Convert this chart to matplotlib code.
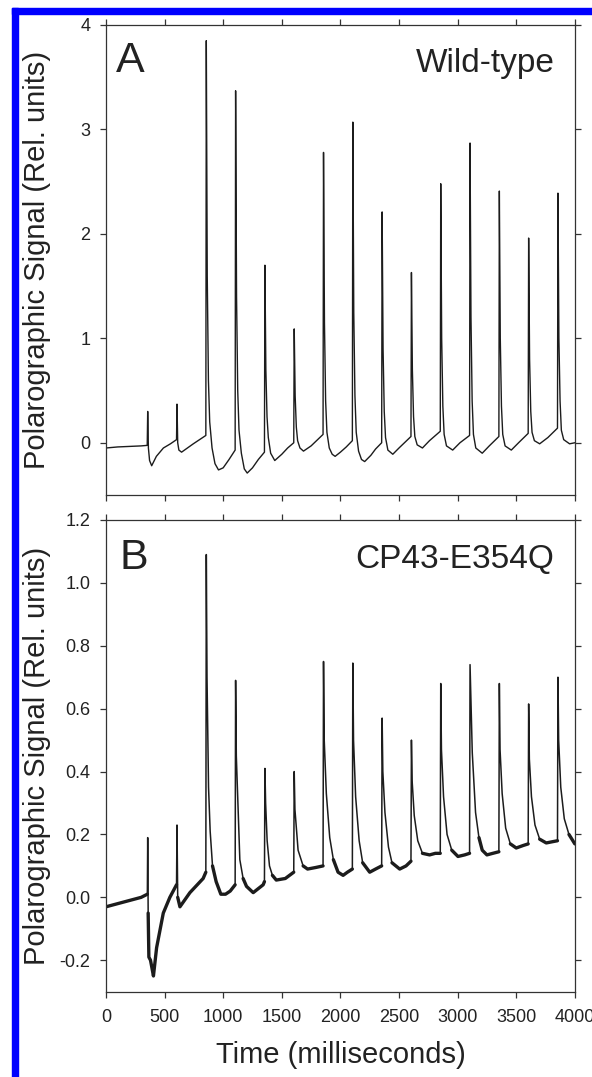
import matplotlib
matplotlib.use("Agg")
import matplotlib.pyplot as plt
import numpy as np
from matplotlib.patches import Rectangle

# ---------------------------------------------------------------------------
# Data (time in ms, signal in relative units)
# ---------------------------------------------------------------------------

flash_times = [355, 605, 855, 1105, 1355, 1605, 1855, 2105, 2355,
               2605, 2855, 3105, 3355, 3605, 3855]

# Panel A - wild-type
wt_time = [
    0, 100, 200, 300, 352,
    356, 362, 372, 390, 430, 490, 550, 602,
    606, 612, 622, 645, 745, 852,
    856, 864, 874, 885, 905, 930, 960, 1000, 1050, 1102,
    1106, 1114, 1124, 1135, 1155, 1180, 1205, 1250, 1300, 1352,
    1356, 1364, 1374, 1385, 1405, 1440, 1500, 1550, 1602,
    1606, 1614, 1624, 1635, 1655, 1685, 1750, 1852,
    1856, 1864, 1874, 1885, 1905, 1930, 1955, 2000, 2050, 2102,
    2106, 2114, 2124, 2135, 2155, 2180, 2207, 2260, 2300, 2352,
    2356, 2364, 2374, 2385, 2405, 2447, 2500, 2602,
    2606, 2614, 2624, 2635, 2655, 2700, 2760, 2852,
    2856, 2864, 2874, 2885, 2905, 2958, 3020, 3102,
    3106, 3114, 3124, 3135, 3155, 3210, 3270, 3352,
    3356, 3364, 3374, 3385, 3405, 3458, 3520, 3602,
    3606, 3614, 3624, 3635, 3655, 3700, 3770, 3852,
    3856, 3864, 3874, 3885, 3905, 3955, 4000,
]
wt_signal = [
    -0.05, -0.04, -0.035, -0.03, -0.025,
    0.30, -0.05, -0.17, -0.22, -0.13, -0.05, -0.01, 0.03,
    0.37, 0.0, -0.07, -0.09, -0.01, 0.07,
    3.85, 1.6, 0.6, 0.2, -0.05, -0.2, -0.26, -0.24, -0.16, -0.07,
    3.37, 1.4, 0.5, 0.12, -0.1, -0.25, -0.29, -0.24, -0.16, -0.09,
    1.70, 0.7, 0.25, 0.05, -0.1, -0.17, -0.11, -0.05, 0.0,
    1.09, 0.45, 0.15, 0.02, -0.05, -0.08, -0.03, 0.08,
    2.78, 1.15, 0.4, 0.1, -0.05, -0.11, -0.13, -0.09, -0.04, 0.02,
    3.07, 1.25, 0.45, 0.1, -0.08, -0.16, -0.18, -0.12, -0.06, 0.0,
    2.21, 0.9, 0.3, 0.05, -0.07, -0.11, -0.05, 0.06,
    1.63, 0.7, 0.25, 0.06, -0.02, -0.05, 0.02, 0.11,
    2.48, 1.0, 0.35, 0.08, -0.03, -0.07, 0.0, 0.07,
    2.87, 1.2, 0.4, 0.08, -0.05, -0.10, -0.03, 0.06,
    2.41, 1.0, 0.35, 0.08, -0.03, -0.07, 0.0, 0.09,
    1.96, 0.8, 0.3, 0.1, 0.02, -0.01, 0.05, 0.14,
    2.39, 1.0, 0.4, 0.12, 0.03, -0.01, 0.0,
]

# Panel B - CP43-E354Q mutant
mut_time = [
    0, 100, 200, 300, 353,
    356, 360, 366, 380, 395, 405, 432, 489, 545, 602,
    606, 612, 631, 716, 829, 852,
    856, 862, 875, 889, 909, 940, 980, 1020, 1060, 1102,
    1106, 1112, 1142, 1170, 1199, 1256, 1341, 1352,
    1356, 1362, 1375, 1395, 1420, 1453, 1530, 1602,
    1606, 1612, 1639, 1682, 1720, 1790, 1852,
    1856, 1862, 1880, 1909, 1940, 1980, 2023, 2060, 2102,
    2106, 2112, 2130, 2160, 2190, 2250, 2300, 2352,
    2356, 2362, 2380, 2410, 2440, 2506, 2560, 2602,
    2606, 2612, 2630, 2660, 2700, 2761, 2810, 2852,
    2856, 2862, 2880, 2910, 2950, 3003, 3060, 3102,
    3106, 3125, 3153, 3182, 3210, 3250, 3300, 3352,
    3356, 3362, 3380, 3410, 3450, 3500, 3560, 3602,
    3606, 3612, 3630, 3660, 3700, 3756, 3810, 3852,
    3856, 3862, 3880, 3910, 3950, 4000,
]
mut_signal = [
    -0.03, -0.02, -0.01, 0.0, 0.01,
    0.19, -0.05, -0.19, -0.20, -0.23, -0.25, -0.16, -0.05, 0.0, 0.04,
    0.23, 0.0, -0.03, 0.015, 0.06, 0.08,
    1.09, 0.7, 0.35, 0.21, 0.10, 0.05, 0.01, 0.01, 0.02, 0.04,
    0.69, 0.45, 0.12, 0.06, 0.035, 0.015, 0.04, 0.05,
    0.41, 0.3, 0.18, 0.10, 0.07, 0.055, 0.06, 0.08,
    0.40, 0.28, 0.15, 0.10, 0.09, 0.095, 0.10,
    0.75, 0.5, 0.33, 0.19, 0.12, 0.08, 0.07, 0.08, 0.09,
    0.745, 0.5, 0.32, 0.18, 0.11, 0.08, 0.09, 0.10,
    0.57, 0.4, 0.27, 0.16, 0.11, 0.09, 0.10, 0.115,
    0.50, 0.37, 0.26, 0.18, 0.14, 0.135, 0.14, 0.14,
    0.68, 0.47, 0.32, 0.2, 0.15, 0.13, 0.135, 0.14,
    0.74, 0.46, 0.27, 0.19, 0.15, 0.135, 0.14, 0.145,
    0.68, 0.47, 0.33, 0.22, 0.17, 0.157, 0.165, 0.17,
    0.615, 0.44, 0.32, 0.23, 0.185, 0.173, 0.177, 0.18,
    0.70, 0.5, 0.35, 0.25, 0.2, 0.17,
]

x_ticks = [0, 500, 1000, 1500, 2000, 2500, 3000, 3500, 4000]
a_yticks = [0, 1, 2, 3, 4]
b_yticks = [-0.2, 0.0, 0.2, 0.4, 0.6, 0.8, 1.0, 1.2]
b_yticklabels = ["-0.2", "0.0", "0.2", "0.4", "0.6", "0.8", "1.0", "1.2"]

# ---------------------------------------------------------------------------
# Figure
# ---------------------------------------------------------------------------

plt.rcParams['font.family'] = ['Liberation Sans', 'DejaVu Sans']
plt.rcParams['axes.unicode_minus'] = False

ink = '#1c1c1c'
fig = plt.figure(figsize=(5.92, 10.77), dpi=100)

axA = fig.add_axes([0.179, 0.5404, 0.792, 0.4364])
axB = fig.add_axes([0.179, 0.0792, 0.792, 0.4380])

axA.plot(wt_time, wt_signal, color=ink, lw=1.0)

# the mutant trace is noisy: thin line through the spikes, a heavier
# stroke everywhere else to mimic the noise band
mt = np.array(mut_time, dtype=float)
ms = np.array(mut_signal, dtype=float)
in_spike = np.zeros(len(mt), dtype=bool)
for tf in flash_times:
    pre_val = ms[mt < tf][-1]
    in_spike |= (mt > tf) & (mt < tf + 60) & (ms > pre_val + 0.02)
ms_slow = np.where(in_spike, np.nan, ms)
axB.plot(mt, ms, color=ink, lw=1.1)
axB.plot(mt, ms_slow, color=ink, lw=2.4, solid_joinstyle='round',
         solid_capstyle='round')

for ax in (axA, axB):
    ax.set_xlim(0, 4000)
    ax.set_xticks(x_ticks)
    ax.tick_params(direction='out', length=4.3, width=0.9, color='#333333',
                   top=True, right=True, labelsize=13, labelcolor='#222222')
    ax.tick_params(axis='y', pad=7)
    ax.tick_params(axis='x', pad=8)
    for s in ax.spines.values():
        s.set_color('#333333')
        s.set_linewidth(0.9)
    ax.set_ylabel("Polarographic Signal (Rel. units)", fontsize=21, color='#222222')
    ax.yaxis.set_label_coords(-0.117, 0.5)

axA.set_ylim(-0.5, 4)
axA.set_yticks(a_yticks)
axA.set_xticklabels([])

axB.set_ylim(-0.3, 1.2)
axB.set_yticks(b_yticks)
axB.set_yticklabels(b_yticklabels)
axB.set_xticklabels([str(t) for t in x_ticks])
axB.set_xlabel("Time (milliseconds)", fontsize=21, color='#222222')
axB.xaxis.set_label_coords(0.5, -0.105)

axA.text(0.021, 0.9, "A", transform=axA.transAxes, fontsize=31, color='#222222',
         ha='left', va='baseline')
axA.text(0.957, 0.9, "Wild-type", transform=axA.transAxes, fontsize=24,
         color='#222222', ha='right', va='baseline')
axB.text(0.028, 0.896, "B", transform=axB.transAxes, fontsize=31, color='#222222',
         ha='left', va='baseline')
axB.text(0.955, 0.898, "CP43-E354Q", transform=axB.transAxes, fontsize=24,
         color='#222222', ha='right', va='baseline')

# blue frame on the left and top edges
W, H = 592.0, 1077.0
fig.patches.append(Rectangle((12 / W, 0), 5.5 / W, 1 - 8 / H, transform=fig.transFigure,
                             color='#0000ff', zorder=5))
fig.patches.append(Rectangle((12 / W, 1 - 13.5 / H), 1, 5.5 / H, transform=fig.transFigure,
                             color='#0000ff', zorder=5))

fig.savefig("out.png", dpi=100)
